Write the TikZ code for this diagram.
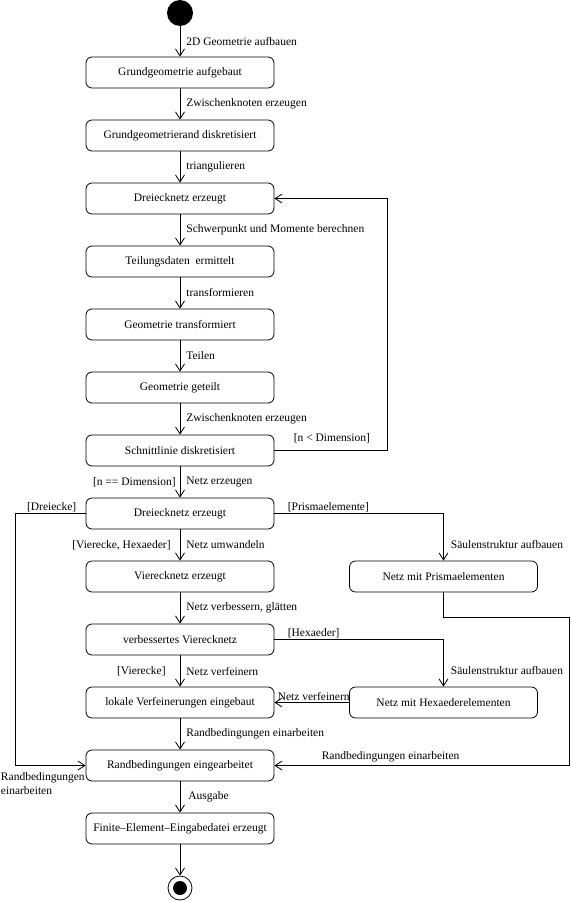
\documentclass[tikz,border=0pt]{standalone}
\usepackage{fontspec}
\setmainfont{Liberation Serif}
\usetikzlibrary{arrows.meta}
\newcommand\lbfont{\fontsize{11.5}{13.5}\selectfont}
\begin{document}
\begin{tikzpicture}[x=1pt,y=-1pt, line width=0.8pt,
  >={Straight Barb[length=7pt,width=9pt]},
  state/.style={draw, rounded corners=6pt, minimum width=188pt, minimum height=31pt, inner sep=0pt, font=\lbfont},
  lr/.style={anchor=west, inner sep=0pt, xshift=6pt, font=\lbfont},
  lb/.style={anchor=west, inner sep=0pt, font=\lbfont},
  ll/.style={anchor=east, inner sep=0pt, font=\lbfont}]
\useasboundingbox (0,0) rectangle (571,902);

\node[circle, fill, minimum size=26pt, inner sep=0pt] (start) at (180,13) {};
\node[state] (b1) at (180,72.5) {Grundgeometrie aufgebaut};
\node[state] (b2) at (180,135.5) {Grundgeometrierand diskretisiert};
\node[state] (b3) at (180,198.5) {Dreiecknetz erzeugt};
\node[state] (b4) at (180,261.5) {Teilungsdaten~ ermittelt};
\node[state] (b5) at (180,324.5) {Geometrie transformiert};
\node[state] (b6) at (180,387.5) {Geometrie geteilt};
\node[state] (b7) at (180,450.5) {Schnittlinie diskretisiert};
\node[state] (d2) at (180,513.5) {Dreiecknetz erzeugt};
\node[state] (vq) at (180,576.5) {Vierecknetz erzeugt};
\node[state] (vb) at (180,639.5) {verbessertes Vierecknetz};
\node[state] (lv) at (180,702.5) {lokale Verfeinerungen eingebaut};
\node[state] (rb) at (180,765.5) {Randbedingungen eingearbeitet};
\node[state] (fe) at (180,828.5) {Finite--Element--Eingabedatei erzeugt};
\node[state] (pr) at (443.5,576.5) {Netz mit Prismaelementen};
\node[state] (hx) at (443.5,702.5) {Netz mit Hexaederelementen};
\node[circle, draw, minimum size=24pt, inner sep=0pt] (end) at (180,888) {};
\node[circle, fill, minimum size=14pt, inner sep=0pt] (endin) at (end.center) {};

\coordinate (loopX) at (387,0);
\coordinate (L) at (15,0);
\coordinate (R) at (569,617);

\draw[->] (start) -- node[lr] (t1) {2D Geometrie aufbauen} (b1);
\draw[->] (b1) -- node[lr] (t2) {Zwischenknoten erzeugen} (b2);
\draw[->] (b2) -- node[lr] (t3) {triangulieren} (b3);
\draw[->] (b3) -- node[lr] (t4) {Schwerpunkt und Momente berechnen} (b4);
\draw[->] (b4) -- node[lr] (t5) {transformieren} (b5);
\draw[->] (b5) -- node[lr] (t6) {Teilen} (b6);
\draw[->] (b6) -- node[lr] (t7) {Zwischenknoten erzeugen} (b7);
\draw[->] (b7.east) -- (b7.east -| loopX) node[pos=0, lb, xshift=19pt, yshift=12pt] (g1) {[n < Dimension]} |- (b3.east);
\draw[->] (b7) -- node[lr] (t8) {Netz erzeugen} node[ll, xshift=-4pt] (g2) {[n == Dimension]} (d2);
\draw[->] (d2) -- node[lr] (t9) {Netz umwandeln} node[ll, xshift=-9pt] (g3) {[Vierecke, Hexaeder]} (vq);
\draw[->] (vq) -- node[lr] (t10) {Netz verbessern, glätten} (vb);
\draw[->] (vb) -- node[lr] (t11) {Netz verfeinern} node[ll, xshift=-14pt] (g4) {[Vierecke]} (lv);
\draw[->] (lv) -- node[lr] (t12) {Randbedingungen einarbeiten} (rb);
\draw[->] (rb) -- node[lr, xshift=2pt] (t13) {Ausgabe} (fe);
\draw[->] (fe) -- (end);

\draw[->] (d2.west) -- (d2.west -| L) node[pos=0, ll, xshift=-9pt, yshift=6pt] (g5) {[Dreiecke]}
  |- (rb.west) node[pos=1, anchor=north west, inner sep=0pt, align=left, xshift=-85pt, yshift=-7pt, font=\lbfont] (t14) {Randbedingungen\\einarbeiten};
\draw[->] (d2.east) -| (pr.north) node[pos=0, lb, xshift=13pt, yshift=6pt] (g6) {[Prismaelemente]}
  node[pos=1, lb, xshift=7pt, yshift=16pt] (t15) {Säulenstruktur aufbauen};
\draw[->] (pr.south) -- (pr.south |- R) -- (R) |- (rb.east) node[pos=1, lb, xshift=47pt, yshift=9pt] (t16) {Randbedingungen einarbeiten};
\draw[->] (vb.east) -| (hx.north) node[pos=0, lb, xshift=13pt, yshift=6pt] (g7) {[Hexaeder]}
  node[pos=1, lb, xshift=7pt, yshift=16pt] (t17) {Säulenstruktur aufbauen};
\draw[->] (hx.west) -- (lv.east) node[pos=1, lb, xshift=3pt, yshift=6pt] (t18) {Netz verfeinern};
\end{tikzpicture}
\end{document}
